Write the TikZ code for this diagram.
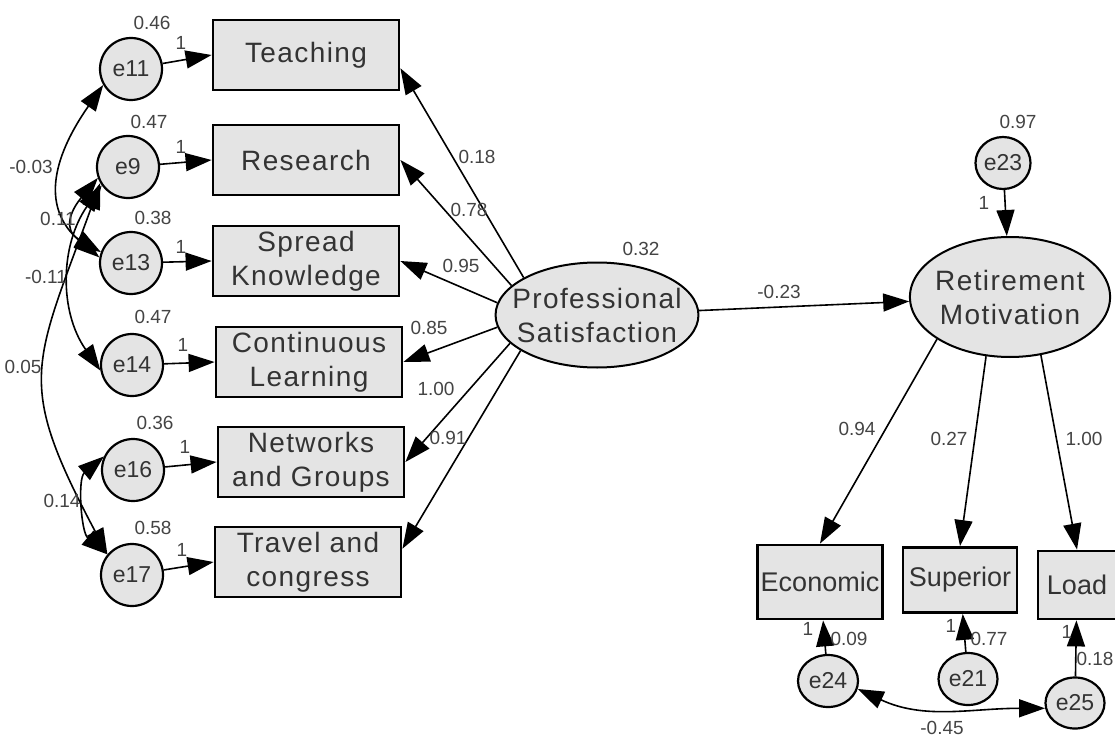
\documentclass[tikz,border=0pt]{standalone}
\usepackage{fontspec}
\setmainfont{Liberation Sans}
\newfontfamily\semfont[LetterSpace=5]{Liberation Sans}
\definecolor{semfill}{HTML}{E4E4E4}
\definecolor{semtext}{HTML}{333333}
\definecolor{semnum}{HTML}{444444}
\usetikzlibrary{shapes.geometric,arrows.meta,positioning}

\begin{document}
\begin{tikzpicture}[
  x=1pt, y=1pt,
  obs/.style={draw, line width=2.8pt, fill=semfill, minimum width=186pt, minimum height=70pt,
    align=center, inner sep=0pt, font=\semfont\fontsize{28}{34}\selectfont, text=semtext},
  obsr/.style={obs, font=\fontsize{27}{32}\selectfont},
  lat/.style={ellipse, draw, line width=2pt, fill=semfill, align=center, inner ysep=0pt,
    font=\semfont\fontsize{28}{34}\selectfont, text=semtext},
  err/.style={ellipse, draw, line width=2.2pt, fill=semfill, inner sep=0pt,
    minimum width=62pt, minimum height=62pt, font=\fontsize{23}{23}\selectfont, text=semtext},
  num/.style={font=\fontsize{19}{19}\selectfont, text=semnum, inner sep=0pt},
  reg/.style={-{Triangle[length=26pt, width=18pt]}, line width=1.6pt},
  cov/.style={{Triangle[length=26pt, width=18pt]}-{Triangle[length=26pt, width=18pt]}, line width=1.6pt}
]
  \useasboundingbox (0,0) rectangle (1115,-738);

  % Professional satisfaction block
  \node[obs] (teach)  at (306,-55)  {Teaching};
  \node[obs] (res)    at (306,-160) {Research};
  \node[obs] (spread) at (306,-261) {Spread\\Knowledge};
  \node[obs] (cont)   at (309,-362) {Continuous\\Learning};
  \node[obs] (netw)   at (311,-462) {Networks\\and Groups};
  \node[obs] (travel) at (308,-562) {Travel and\\congress};

  \node[err] (e11) at (131,-69)  {e11};
  \node[err] (e9)  at (128,-167) {e9};
  \node[err] (e13) at (131,-263) {e13};
  \node[err] (e14) at (132,-365) {e14};
  \node[err] (e16) at (133,-470) {e16};
  \node[err] (e17) at (132,-575) {e17};

  \node[lat, inner xsep=-13pt, minimum width=197pt, minimum height=105pt] (ps) at (597,-315) {Professional\\Satisfaction};

  % Retirement motivation block
  \node[lat, inner xsep=-4pt, minimum width=195pt, minimum height=120pt] (rm) at (1010,-297) {Retirement\\Motivation};
  \node[err, minimum width=55pt, minimum height=52pt] (e23) at (1003,-163) {e23};

  \node[obsr, minimum width=125pt, minimum height=74pt] (econ) at (820,-582) {Economic};
  \node[obsr, minimum width=114pt, minimum height=65pt] (sup)  at (960,-580) {Superior};
  \node[obsr, minimum width=78pt, minimum height=68pt]  (load) at (1077,-585) {Load};

  \node[err, minimum width=60pt, minimum height=52pt] (e24) at (828,-681)  {e24};
  \node[err, minimum width=59pt, minimum height=52pt] (e21) at (968,-679)  {e21};
  \node[err, minimum width=59pt, minimum height=51pt] (e25) at (1075,-703) {e25};

  % Paths
  \draw[reg] (e11) -- (teach.west);
  \draw[reg] (e9)  -- (res.west);
  \draw[reg] (e13) -- (spread.west);
  \draw[reg] (e14) -- (cont.west);
  \draw[reg] (e16) -- (netw.west);
  \draw[reg] (e17) -- (travel.west);

  \draw[reg] (ps.153) -- (teach.-8);
  \draw[reg] (ps.161) -- (res.east);
  \draw[reg] (ps.173) -- (spread.east);
  \draw[reg] (ps.187) -- (cont.east);
  \draw[reg] (ps.198) -- (netw.east);
  \draw[reg] (ps.205) -- (travel.8);
  \draw[reg] (ps) -- (rm);

  \draw[reg] (e23) -- (rm);
  \draw[reg] (rm.210) -- (econ.north);
  \draw[reg] (rm.248) -- (sup.north);
  \draw[reg] (rm.298) -- (load.north);
  \draw[reg] (e24) -- (econ);
  \draw[reg] (e21) -- (sup);
  \draw[reg] (e25) -- (load);

  % Covariances
  \draw[cov] (e11.210) to[out=235, in=140, looseness=1.2] (e13.170);
  \draw[cov] (e9.200) to[out=230, in=150, looseness=1.5] (e13.160);
  \draw[cov] (e9.215) to[out=235, in=125] (e14.190);
  \draw[cov] (e9.210) to[out=250, in=118, looseness=1.35] (e17.140);
  \draw[cov] (e16.155) to[out=220, in=140, looseness=0.9] (e17.140);
  \draw[cov] (e24.-15) to[out=-25, in=180] (e25.190);

  % Estimates
  \node[num] (v11) at (152,-23)  {0.46};
  \node[num] (v9)  at (149,-122) {0.47};
  \node[num] (v13) at (153,-218) {0.38};
  \node[num] (v14) at (153,-317) {0.47};
  \node[num] (v16) at (155,-423) {0.36};
  \node[num] (v17) at (153,-528) {0.58};
  \node[num] (w11) at (181,-43)  {1};
  \node[num] (w9)  at (181,-147) {1};
  \node[num] (w13) at (181,-247) {1};
  \node[num] (w14) at (183,-345) {1};
  \node[num] (w16) at (185,-447) {1};
  \node[num] (w17) at (182,-550) {1};

  \node[num] (c1113) at (31,-167)  {-0.03};
  \node[num] (c913)  at (58,-219)  {0.11};
  \node[num] (c914)  at (46,-277)  {-0.11};
  \node[num] (c917)  at (23,-367)  {0.05};
  \node[num] (c1617) at (62,-501)  {0.14};

  \node[num] (lteach)  at (477,-157) {0.18};
  \node[num] (lres)    at (469,-210) {0.78};
  \node[num] (lspread) at (461,-266) {0.95};
  \node[num] (lcont)   at (429,-328) {0.85};
  \node[num] (lnetw)   at (436,-389) {1.00};
  \node[num] (ltravel) at (448,-438) {0.91};
  \node[num] (vps)     at (641,-249) {0.32};
  \node[num] (lrm)     at (779,-292) {-0.23};

  \node[num] (v23)   at (1018,-122) {0.97};
  \node[num] (w23)   at (984,-203)  {1};
  \node[num] (lecon) at (857,-429)  {0.94};
  \node[num] (lsup)  at (949,-439)  {0.27};
  \node[num] (lload) at (1084,-439) {1.00};
  \node[num] (w24)   at (808,-629)  {1};
  \node[num] (v24)   at (849,-639)  {0.09};
  \node[num] (w21)   at (951,-626)  {1};
  \node[num] (v21)   at (989,-639)  {0.77};
  \node[num] (w25)   at (1067,-632) {1};
  \node[num] (v25)   at (1095,-659) {0.18};
  \node[num] (c2425) at (942,-728)  {-0.45};
\end{tikzpicture}
\end{document}
